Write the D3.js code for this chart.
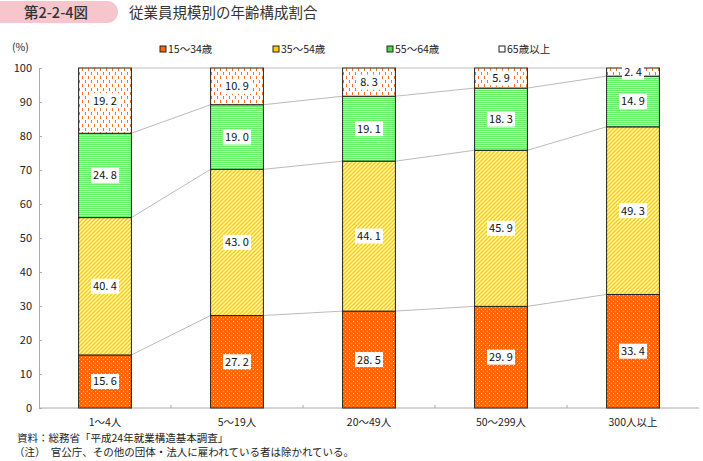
<!DOCTYPE html>
<html><head><meta charset="utf-8">
<script src="https://cdn.jsdelivr.net/npm/d3@7"></script>
<style>
body{margin:0;background:#fff;}
svg{display:block;font-family:"Noto Sans CJK JP","Noto Sans",sans-serif;}
</style></head><body>
<svg id="c" width="703" height="461"></svg>
<script>
const categories = ["1～4人","5～19人","20～49人","50～299人","300人以上"];
const seriesNames = ["15～34歳","35～54歳","55～64歳","65歳以上"];
const s15_34 = [15.6, 27.2, 28.5, 29.9, 33.4];
const s35_54 = [40.4, 43.0, 44.1, 45.9, 49.3];
const s55_64 = [24.8, 19.0, 19.1, 18.3, 14.9];
const s65p   = [19.2, 10.9, 8.3, 5.9, 2.4];
const yTicks = [0,10,20,30,40,50,60,70,80,90,100];

const series = [s15_34, s35_54, s55_64, s65p];
const svg = d3.select("#c");
const defs = svg.append("defs");

// patterns
const p1 = defs.append("pattern").attr("id","p0").attr("patternUnits","userSpaceOnUse").attr("width",4).attr("height",4);
p1.append("rect").attr("width",4).attr("height",4).attr("fill","#ff6600");
p1.append("rect").attr("x",1).attr("y",1).attr("width",1).attr("height",1).attr("fill","#ffd8b0");
p1.append("rect").attr("x",3).attr("y",3).attr("width",1).attr("height",1).attr("fill","#ffb070");

const p2 = defs.append("pattern").attr("id","p1").attr("patternUnits","userSpaceOnUse").attr("width",4).attr("height",4);
p2.append("rect").attr("width",4).attr("height",4).attr("fill","#ffcc00");
p2.append("path").attr("d","M-1,1 L1,-1 M0,4 L4,0 M3,5 L5,3").attr("stroke","#fff8d0").attr("stroke-width",1.3);

const p3 = defs.append("pattern").attr("id","p2").attr("patternUnits","userSpaceOnUse").attr("width",4).attr("height",2);
p3.append("rect").attr("width",4).attr("height",2).attr("fill","#66f066");
p3.append("rect").attr("y",1).attr("width",4).attr("height",1).attr("fill","#aaffaa");

const p4 = defs.append("pattern").attr("id","p3").attr("patternUnits","userSpaceOnUse").attr("width",6).attr("height",8);
p4.append("rect").attr("width",6).attr("height",8).attr("fill","#fff");
p4.append("rect").attr("x",1).attr("y",0).attr("width",1).attr("height",3).attr("fill","#ff7020");
p4.append("rect").attr("x",4).attr("y",4).attr("width",1).attr("height",3).attr("fill","#ff7020");

const legendColors = ["#ff6600","#ffcc00","#44dd44","#fff"];

// title
svg.append("path").attr("d","M0,1 H107 A11,11 0 0 1 107,23 H0 Z").attr("fill","#f7c6cc");
svg.append("text").attr("x",56).attr("y",17.5).attr("text-anchor","middle").attr("font-size",14.5).attr("font-weight",500).attr("fill","#333").text("第2-2-4図");
svg.append("text").attr("x",129).attr("y",17.5).attr("font-size",14.5).attr("fill","#333").text("従業員規模別の年齢構成割合");

const x = d3.scaleBand().domain(categories).range([39,699]).paddingInner(0.6).paddingOuter(0.3);
const y = d3.scaleLinear().domain([0,100]).range([408,68]);

// y axis
const yAxis = svg.append("g").attr("transform","translate(39,0)").call(d3.axisLeft(y).tickValues(yTicks).tickSize(-3).tickPadding(7));
yAxis.select(".domain").attr("stroke","#aaa");
yAxis.selectAll(".tick line").attr("stroke","#aaa");
yAxis.selectAll("text").attr("font-size",11).attr("fill","#222").attr("font-family","Noto Sans CJK JP");
svg.append("text").attr("x",12).attr("y",51).attr("font-size",10.5).attr("fill","#222").text("(%)");

// x axis
const xg = svg.append("g").attr("transform","translate(0,408)");
xg.append("line").attr("x1",39).attr("x2",699).attr("stroke","#aaa");
categories.slice(0,4).forEach((c,i)=>{
  const bx = 39 + (i+1)*x.step();
  xg.append("line").attr("x1",bx).attr("x2",bx).attr("y1",0).attr("y2",-3).attr("stroke","#aaa");
});
categories.forEach(c=>{
  xg.append("text").attr("x",x(c)+x.bandwidth()/2).attr("y",18).attr("text-anchor","middle").attr("font-size",10.5).attr("fill","#222").text(c);
});

// stacked data
const stacks = categories.map((c,i)=>{
  let acc=0; return series.map((s,k)=>{const y0=acc; acc+=s[i]; return {c, k, v:s[i], y0, y1:acc};});
});

// connector lines
for(let i=0;i<categories.length-1;i++){
  for(let k=0;k<4;k++){
    const a=stacks[i][k], b=stacks[i+1][k];
    svg.append("line").attr("x1",x(categories[i])+x.bandwidth()).attr("x2",x(categories[i+1]))
      .attr("y1",y(Math.min(a.y1,100))).attr("y2",y(Math.min(b.y1,100)))
      .attr("stroke","#bbb").attr("stroke-width",1);
  }
}

// bars
stacks.forEach(st=>{
  st.forEach(d=>{
    svg.append("rect").attr("x",x(d.c)).attr("width",x.bandwidth())
      .attr("y",y(Math.min(d.y1,100))).attr("height",y(d.y0)-y(Math.min(d.y1,100)))
      .attr("fill",`url(#p${d.k})`).attr("stroke","#222").attr("stroke-width",1);
  });
});
// labels
stacks.forEach(st=>{
  st.forEach(d=>{
    const cx = x(d.c)+x.bandwidth()/2, cy=(y(d.y0)+y(Math.min(d.y1,100)))/2;
    const txt = d.v.toFixed(1).replace(".",". ");
    const w = txt.length>4 ? 28 : 22, h=15;
    svg.append("rect").attr("x",cx-w/2).attr("y",cy-h/2).attr("width",w).attr("height",h).attr("fill","#fff");
    svg.append("text").attr("x",cx).attr("y",cy+4).attr("text-anchor","middle").attr("font-size",11)
      .attr("fill","#111").attr("xml:space","preserve").style("white-space","pre").text(txt);
  });
});

// legend
const lx=[160,273,387,499];
seriesNames.forEach((n,k)=>{
  svg.append("rect").attr("x",lx[k]).attr("y",46).attr("width",6).attr("height",6).attr("fill",legendColors[k]).attr("stroke","#222").attr("stroke-width",1);
  svg.append("text").attr("x",lx[k]+8).attr("y",53).attr("font-size",10.5).attr("fill","#222").text(n);
});

// notes
svg.append("text").attr("x",17).attr("y",442).attr("font-size",10.5).attr("fill","#222").text("資料：総務省「平成24年就業構造基本調査」");
svg.append("text").attr("x",14).attr("y",456).attr("font-size",10.5).attr("fill","#222").text("（注）　官公庁、その他の団体・法人に雇われている者は除かれている。");
</script></body></html>
